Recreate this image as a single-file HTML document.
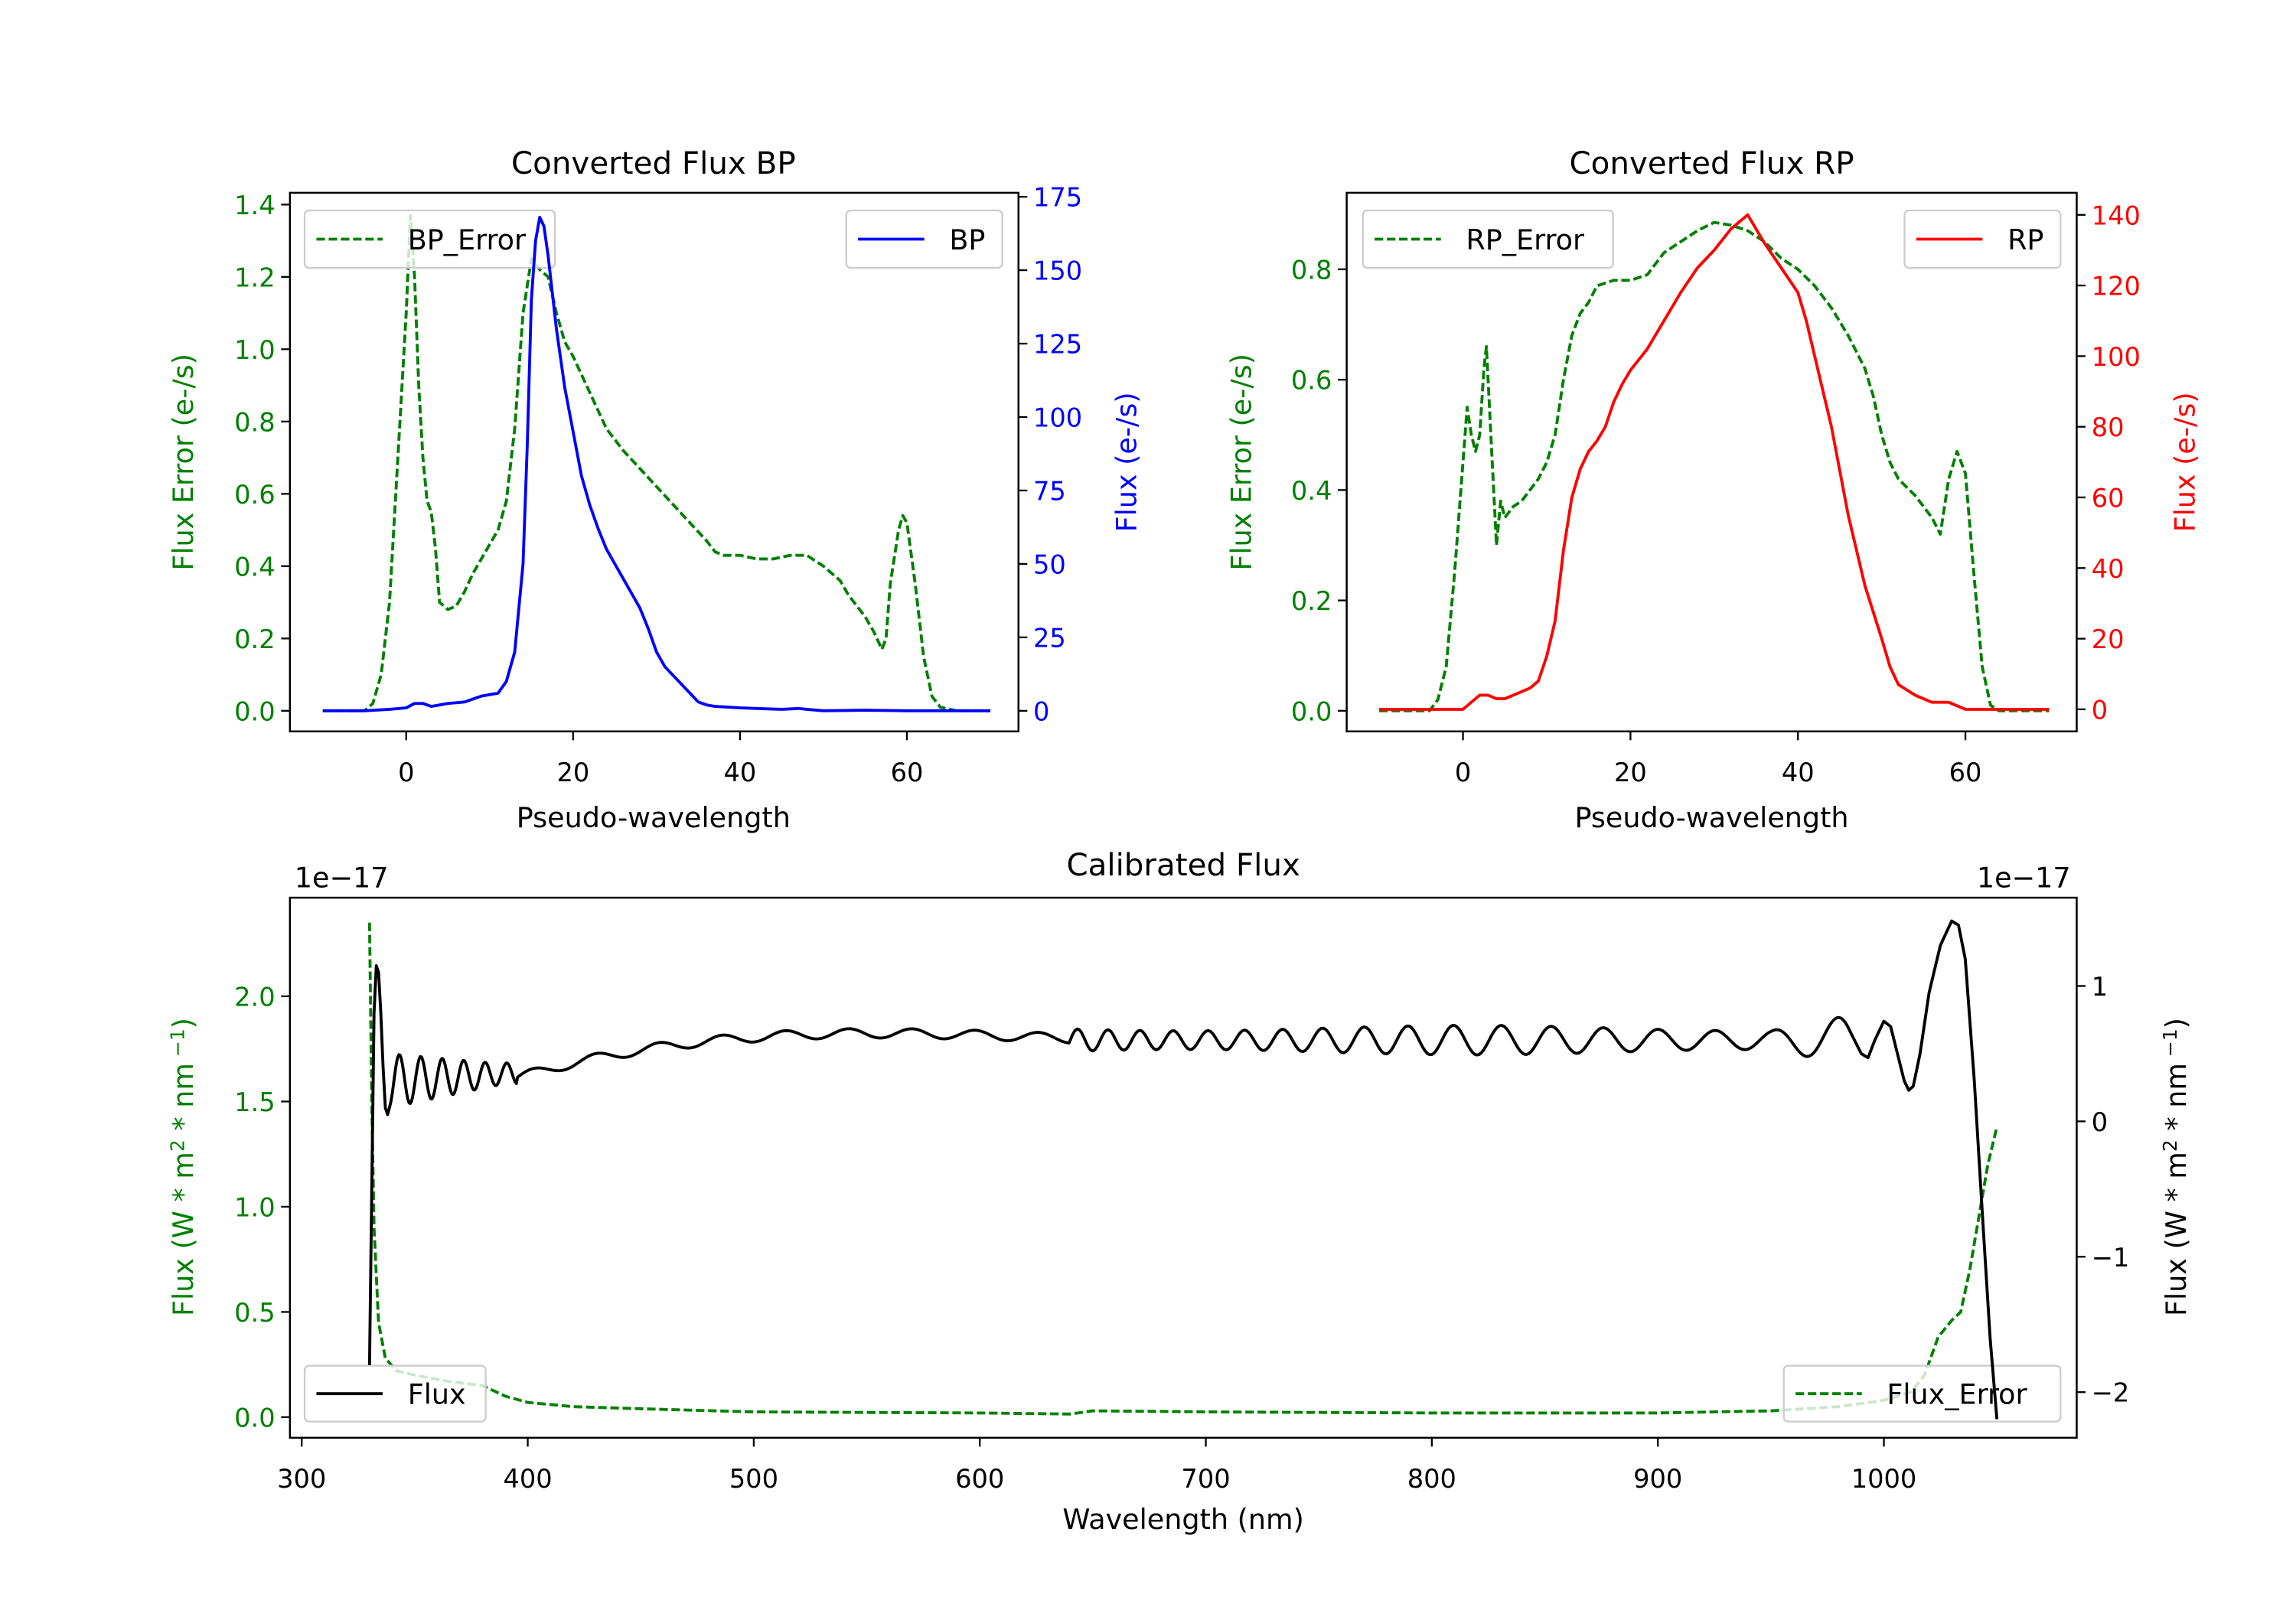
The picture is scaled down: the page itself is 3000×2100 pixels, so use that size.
<!DOCTYPE html>
<html><head><meta charset="utf-8"><style>
html,body{margin:0;padding:0;background:#fff;}
svg{display:block;}
text{font-family:"DejaVu Sans","Liberation Sans",sans-serif;}
</style></head><body>
<svg id="s" xmlns="http://www.w3.org/2000/svg" width="3000" height="2100" viewBox="0 0 1560 1092"></svg>
<script>
const S=document.getElementById('s');let out='';
const TS=17.5, LS=19, TT=21;
function P(pts,fx,fy){return pts.map((p,i)=>(i?'L':'M')+fx(p[0]).toFixed(2)+','+fy(p[1]).toFixed(2)).join('');}
function line(d,col,dash,clip){out+=`<path d="${d}" fill="none" stroke="${col}" stroke-width="2" stroke-linejoin="round" ${dash?'stroke-dasharray="5.8,2.5"':''} ${clip?`clip-path="url(#${clip})"`:''}/>`;}
function txt(x,y,s,col,anc,size,extra){out+=`<text x="${x}" y="${y}" fill="${col||'#000'}" font-size="${size||TS}" text-anchor="${anc||'middle'}" ${extra||''}>${s}</text>`;}
function axes(x0,y0,x1,y1,id){out+=`<clipPath id="${id}"><rect x="${x0}" y="${y0}" width="${x1-x0}" height="${y1-y0}"/></clipPath>`;}
function frame(x0,y0,x1,y1){out+=`<rect x="${x0}" y="${y0}" width="${x1-x0}" height="${y1-y0}" fill="none" stroke="#000" stroke-width="1.3"/>`;}
function xt(x,y,l){out+=`<line x1="${x}" y1="${y}" x2="${x}" y2="${y+6}" stroke="#000" stroke-width="1.2"/>`;txt(x,y+34,l);}
function ylt(x,y,l,c){out+=`<line x1="${x}" y1="${y}" x2="${x-6}" y2="${y}" stroke="#000" stroke-width="1.2"/>`;txt(x-10,y+6.5,l,c,'end');}
function yrt(x,y,l,c){out+=`<line x1="${x}" y1="${y}" x2="${x+6}" y2="${y}" stroke="#000" stroke-width="1.2"/>`;txt(x+10,y+6.5,l,c,'start');}
function legend(x0,y0,w,h,col,dash,label){out+=`<rect x="${x0}" y="${y0}" width="${w}" height="${h}" rx="3" fill="#fff" fill-opacity="0.8" stroke="#ccc" stroke-width="1.2"/>`;
 out+=`<line x1="${x0+8}" y1="${y0+h/2}" x2="${x0+53}" y2="${y0+h/2}" stroke="${col}" stroke-width="2" ${dash?'stroke-dasharray="5.8,2.5"':''}/>`;txt(x0+70,y0+h/2+7,label,'#000','start',LS);}
function ylabel(x,y,s,c){out+=`<text x="${x}" y="${y}" fill="${c}" font-size="${LS}" text-anchor="middle" transform="rotate(-90 ${x} ${y})">${s}</text>`;}

// ---------- BP ----------
let bx=t=>276+t*5.67, bl=v=>483-v*245.7, br=v=>483-v*1.996;
axes(197,131,692,497,'c1');
const bpe=[[-10,0],[-5,0],[-4,0.02],[-3,0.1],[-2,0.3],[-1,0.7],[0,1.1],[0.5,1.37],[1,1.2],[1.5,0.9],[2,0.7],[2.5,0.58],[3,0.55],[3.5,0.45],[4,0.3],[5,0.28],[6,0.29],[7,0.33],[8,0.38],[9,0.42],[10,0.46],[11,0.5],[12,0.58],[13,0.78],[14,1.1],[15,1.25],[16,1.22],[17,1.2],[18,1.1],[19,1.02],[20,0.98],[22,0.88],[24,0.78],[26,0.72],[28,0.67],[30,0.62],[32,0.57],[34,0.52],[36,0.47],[37,0.44],[38,0.43],[40,0.43],[42,0.42],[44,0.42],[46,0.43],[48,0.43],[50,0.4],[52,0.36],[53,0.32],[54,0.29],[55,0.26],[56,0.22],[57,0.17],[57.5,0.2],[58,0.35],[59,0.5],[59.5,0.54],[60,0.52],[61,0.35],[62,0.15],[63,0.04],[64,0.01],[66,0],[70,0]];
const bp=[[-10,0],[-5,0],[-2,0.5],[0,1],[1,2.5],[2,2.5],[3,1.5],[5,2.5],[7,3],[9,5],[11,6],[12,10],[13,20],[14,50],[14.5,90],[15,140],[15.5,160],[16,168],[16.5,165],[17,155],[18,130],[19,110],[20,95],[21,80],[22,70],[23,62],[24,55],[26,45],[27,40],[28,35],[29,28],[30,20],[31,15],[32,12],[33,9],[34,6],[35,3],[36,2],[37,1.5],[40,1],[42,0.8],[45,0.5],[47,0.8],[48,0.5],[50,0],[55,0.2],[60,0],[70,0]];
line(P(bpe,bx,bl),'green',1,'c1');
legend(207,143,170,39,'green',1,'BP_Error');
line(P(bp,bx,br),'blue',0,'c1');
legend(575,143,106,39,'blue',0,'BP');
frame(197,131,692,497);
[0,20,40,60].forEach(t=>xt(bx(t),497,t));
for(let i=0;i<=7;i++)ylt(197,bl(i*0.2),(i*0.2).toFixed(1),'green');
for(let i=0;i<=7;i++)yrt(692,br(i*25),i*25,'blue');
txt(444,118,'Converted Flux BP','#000','middle',TT);
txt(444,562,'Pseudo-wavelength','#000','middle',LS);
ylabel(131,314,'Flux Error (e-/s)','green');ylabel(772,314,'Flux (e-/s)','blue');

// ---------- RP ----------
let rx=t=>994+t*5.69, rl=v=>483-v*375, rr=v=>482-v*2.4;
axes(915,131,1411,497,'c2');
const rpe=[[-10,0],[-4,0],[-3,0.02],[-2,0.08],[-1,0.25],[0,0.45],[0.5,0.55],[1,0.5],[1.5,0.47],[2,0.5],[2.5,0.62],[2.8,0.66],[3,0.6],[3.5,0.45],[4,0.3],[4.5,0.38],[5,0.35],[6,0.37],[7,0.38],[8,0.4],[9,0.42],[10,0.45],[11,0.5],[12,0.6],[13,0.68],[14,0.72],[15,0.74],[16,0.77],[18,0.78],[20,0.78],[22,0.79],[24,0.83],[26,0.85],[28,0.87],[30,0.885],[32,0.88],[34,0.87],[36,0.85],[38,0.82],[40,0.8],[42,0.77],[44,0.73],[46,0.68],[48,0.62],[49,0.57],[50,0.5],[51,0.45],[52,0.42],[54,0.39],[55,0.37],[56,0.35],[57,0.32],[58,0.42],[59,0.47],[60,0.43],[61,0.25],[62,0.08],[63,0.01],[64,0],[70,0]];
const rp=[[-10,0],[-1,0],[0,0],[1,2],[2,4],[3,4],[4,3],[5,3],[6,4],[7,5],[8,6],[9,8],[10,15],[11,25],[12,45],[13,60],[14,68],[15,73],[16,76],[17,80],[18,87],[19,92],[20,96],[22,102],[24,110],[26,118],[28,125],[30,130],[31,133],[32,136],[33,138],[34,140],[35,136],[36,132],[38,125],[40,118],[41,110],[42,100],[44,80],[46,55],[48,35],[50,20],[51,12],[52,7],[54,4],[56,2],[58,2],[59,1],[60,0],[70,0]];
line(P(rpe,rx,rl),'green',1,'c2');
legend(926,143,170,39,'green',1,'RP_Error');
line(P(rp,rx,rr),'red',0,'c2');
legend(1294,143,106,39,'red',0,'RP');
frame(915,131,1411,497);
[0,20,40,60].forEach(t=>xt(rx(t),497,t));
for(let i=0;i<=4;i++)ylt(915,rl(i*0.2),(i*0.2).toFixed(1),'green');
for(let i=0;i<=7;i++)yrt(1411,rr(i*20),i*20,'red');
txt(1163,118,'Converted Flux RP','#000','middle',TT);
txt(1163,562,'Pseudo-wavelength','#000','middle',LS);
ylabel(850,314,'Flux Error (e-/s)','green');ylabel(1491,314,'Flux (e-/s)','red');

// ---------- Calibrated ----------
let cx=w=>205+(w-300)*1.5357, cl=v=>963-v*143, cr=v=>762-v*92;
axes(197,610,1411,977,'c3');
const ferr=[[330,2.35],[331,1.5],[332,0.9],[334,0.45],[337,0.28],[342,0.22],[350,0.2],[365,0.17],[380,0.15],[390,0.1],[400,0.07],[420,0.05],[450,0.04],[500,0.025],[600,0.02],[640,0.015],[650,0.03],[700,0.025],[800,0.02],[900,0.02],[950,0.03],[980,0.05],[1000,0.08],[1012,0.12],[1018,0.2],[1024,0.38],[1030,0.46],[1034,0.5],[1038,0.7],[1042,0.95],[1046,1.2],[1050,1.38]];
line(P(ferr,cx,cl),'green',1,'c3');
legend(207,928,123,38,'#000',0,'Flux');
legend(1212,928,188,38,'green',1,'Flux_Error');
let fl=[[330,-1.8],[331,-0.5],[332,0.8],[333,1.15],[334,1.1],[335,0.8],[336,0.4],[337,0.1],[338,0.05]];
for(let w=339;w<=395;w+=0.5){let amp=0.2*Math.max(0.4,1-(w-339)/80);fl.push([w,0.3+amp*Math.sin((w-339)/9.5*2*Math.PI-1.2)+(w-339)*0.001]);}
for(let w=395.5;w<=640;w+=1){let b=0.32+0.33*(1-Math.exp(-(w-395)/80))+0.06*Math.sin((w-395)/70);b=Math.min(b,0.72);fl.push([w,b+0.035*Math.sin((w-395)/28*2*Math.PI)]);}
let ph=0;for(let w=641;w<=985;w+=1){let per=13+(w-640)*0.045;ph+=2*Math.PI/per;let amp=0.09+0.02*Math.sin(w/40)+(w>950?(w-950)*0.003:0);fl.push([w,0.6+amp*Math.sin(ph)]);}
fl=fl.concat([[990,0.5],[993,0.47],[996,0.6],[1000,0.74],[1003,0.7],[1006,0.5],[1009,0.3],[1011,0.23],[1013,0.26],[1016,0.5],[1020,0.95],[1025,1.3],[1030,1.48],[1033,1.45],[1036,1.2],[1040,0.3],[1044,-0.8],[1047,-1.6],[1050,-2.2]]);
line(P(fl,cx,cr),'#000',0,'c3');
frame(197,610,1411,977);
[300,400,500,600,700,800,900,1000].forEach(t=>xt(cx(t),977,t));
for(let i=0;i<=4;i++)ylt(197,cl(i*0.5),(i*0.5).toFixed(1),'green');
[[1,'1'],[0,'0'],[-1,'−1'],[-2,'−2']].forEach(a=>yrt(1411,cr(a[0]),a[1],'#000'));
txt(232,603,'1e−17','#000','middle',LS);txt(1375,603,'1e−17','#000','middle',LS);
txt(804,595,'Calibrated Flux','#000','middle',TT);
txt(804,1039,'Wavelength (nm)','#000','middle',LS);
const yl='Flux (W * m<tspan dy="-6" font-size="13">2</tspan><tspan dy="6"> * nm</tspan><tspan dy="-6" font-size="13"> −1</tspan><tspan dy="6">)</tspan>';
ylabel(131,793,yl,'green');
ylabel(1485,793,yl,'#000');
S.innerHTML=out;
</script>
</body></html>
